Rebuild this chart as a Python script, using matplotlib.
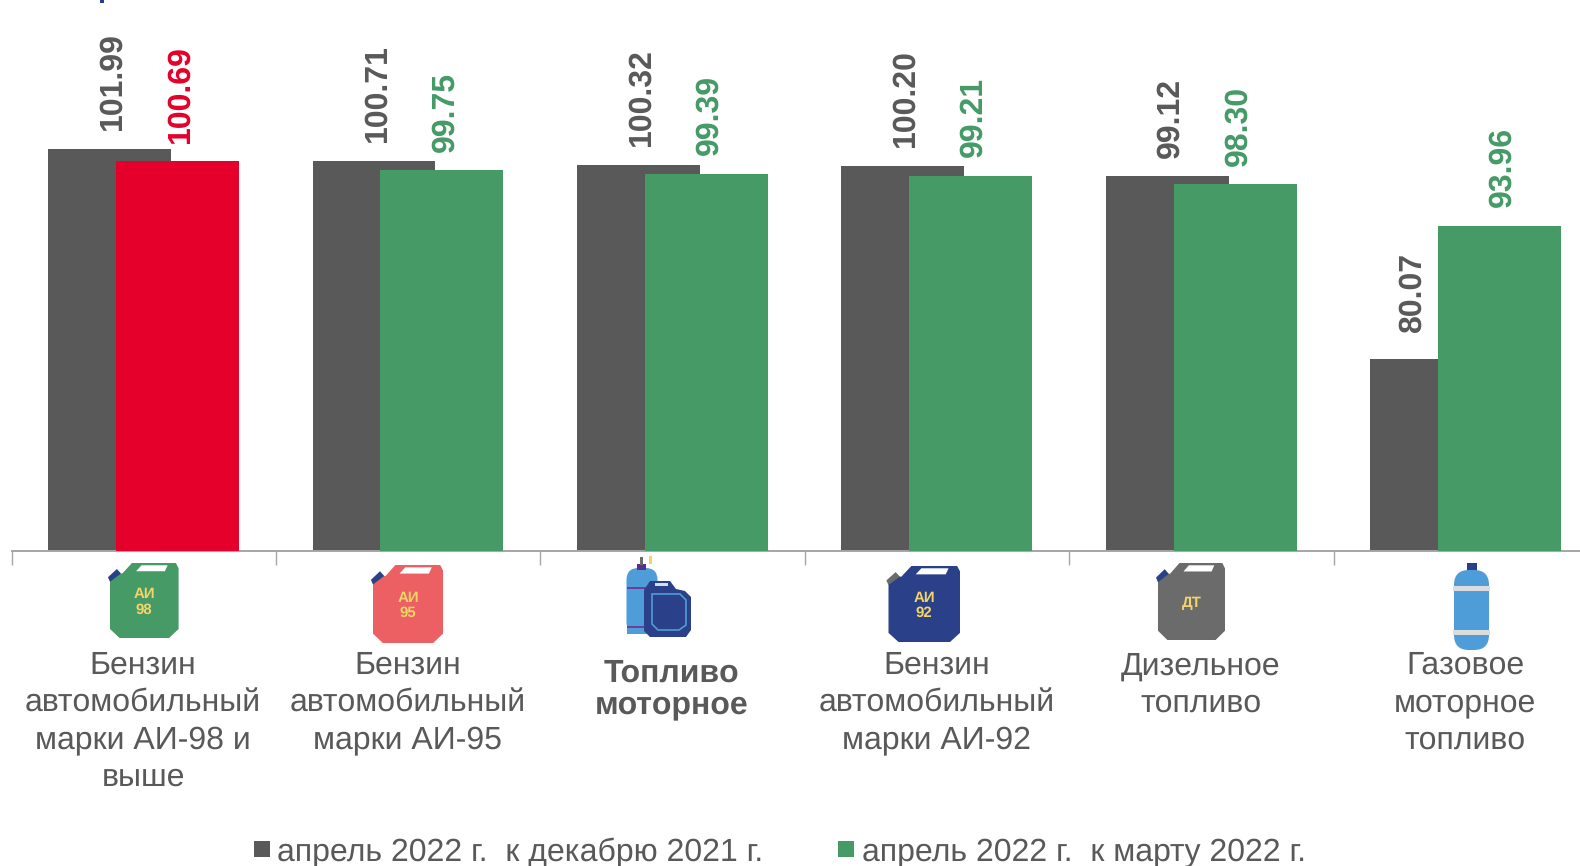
import matplotlib
matplotlib.use("Agg")
import matplotlib.pyplot as plt
from matplotlib.patches import Polygon, Rectangle, FancyBboxPatch
from matplotlib.transforms import blended_transform_factory

plt.rcParams['font.family'] = ['Liberation Sans', 'DejaVu Sans']
plt.rcParams['text.hinting'] = 'none'
plt.rcParams['text.hinting_factor'] = 1

categories = [
    "Бензин\nавтомобильный\nмарки АИ-98 и\nвыше",
    "Бензин\nавтомобильный\nмарки АИ-95",
    "Топливо\nмоторное",
    "Бензин\nавтомобильный\nмарки АИ-92",
    "Дизельное\nтопливо",
    "Газовое\nмоторное\nтопливо",
]
to_dec = [101.99, 100.71, 100.32, 100.20, 99.12, 80.07]
to_mar = [100.69, 99.75, 99.39, 99.21, 98.30, 93.96]
legend_labels = ["апрель 2022 г.  к декабрю 2021 г.", "апрель 2022 г.  к марту 2022 г."]

GRAY = "#595959"
GREEN = "#459a66"
RED = "#e4002b"
NAVY = "#2a4089"
BLUE = "#4f9dd8"
YELLOW = "#f2d468"

W, H = 1580, 866
AXIS_Y = 551
LEFT = 11.5
STEP = 264.4
PX_PER_UNIT = 9.575

fig = plt.figure(figsize=(W / 100, H / 100), dpi=100)
ax = fig.add_axes([LEFT / W, 1 - AXIS_Y / H, 1 - LEFT / W, AXIS_Y / H])
ax.set_xlim(-0.5, -0.5 + (W - LEFT) / STEP)
ax.set_ylim(60, 60 + AXIS_Y / PX_PER_UNIT)
ax.patch.set_visible(False)

# overlay in picture pixels, for the icons and text under the axis
pix = fig.add_axes([0, 0, 1, 1], zorder=3)
pix.set_xlim(0, W)
pix.set_ylim(H, 0)
pix.axis("off")
cat_x = blended_transform_factory(ax.transData, pix.transData)

bar_w = 0.465
off1 = -0.129
off2 = 0.128
colors2 = [RED] + [GREEN] * 5
for i in range(len(categories)):
    ax.bar(i + off1, to_dec[i], bar_w, color=GRAY, zorder=2)
    ax.bar(i + off2, to_mar[i], bar_w, color=colors2[i], zorder=3)
    # last grey label sits over the visible part of its bar, not the bar centre
    dec_shift = (-13.8, 19) if i == 5 else (2.2, 13.5)
    ax.annotate(f"{to_dec[i]:.2f}", (i + off1, to_dec[i]), xytext=dec_shift, textcoords="offset points",
                rotation=90, rotation_mode="anchor", ha="left", va="center", fontsize=23,
                color=GRAY, fontweight="bold", family="Liberation Sans")
    ax.annotate(f"{to_mar[i]:.2f}", (i + off2, to_mar[i]), xytext=(2.2, 13.5), textcoords="offset points",
                rotation=90, rotation_mode="anchor", ha="left", va="center", fontsize=23,
                color=colors2[i], fontweight="bold", family="Liberation Sans")

for s in ["top", "right", "left"]:
    ax.spines[s].set_visible(False)
ax.spines["bottom"].set_color("#a6a6a6")
ax.spines["bottom"].set_linewidth(1.4)
ax.set_yticks([])
ax.set_xticks([i - 0.5 for i in range(len(categories))])
ax.set_xticklabels([])
ax.tick_params(axis="x", length=10, width=1, color="#a6a6a6")

# category names
for i, name in enumerate(categories):
    if i == 2:
        pix.text(i - 0.003, 659, name, transform=cat_x, ha="center", va="top", fontsize=23,
                 fontweight="bold", color=GRAY, linespacing=1.04)
    else:
        pix.text(i - 0.002, 651, name, transform=cat_x, ha="center", va="top", fontsize=23,
                 color=GRAY, linespacing=1.32)


def can(x0, x1, y0, y1, color, label, cap=NAVY):
    w = x1 - x0
    h = y1 - y0
    pts = [(0.32, 0), (0.96, 0), (1, 0.07), (1, 0.88), (0.86, 1), (0.14, 1), (0, 0.88), (0, 0.2), (0.1, 0.14),
           (0.18, 0.14)]
    pix.add_patch(Polygon([(x0 + a * w, y0 + b * h) for a, b in pts], color=color, lw=0))
    pix.add_patch(Polygon([(x0 + 0.38 * w, y0 + 0.11 * h), (x0 + 0.46 * w, y0 + 0.03 * h),
                           (x0 + 0.84 * w, y0 + 0.03 * h), (x0 + 0.8 * w, y0 + 0.11 * h)], color="white", lw=0))
    pix.add_patch(Polygon([(x0 + 0.0 * w, y0 + 0.25 * h), (x0 + 0.16 * w, y0 + 0.14 * h),
                           (x0 + 0.1 * w, y0 + 0.08 * h), (x0 - 0.03 * w, y0 + 0.19 * h)], color=cap, lw=0))
    pix.text(x0 + 0.5 * w, y0 + 0.52 * h, label, ha="center", va="center", fontsize=11, fontweight="bold",
             color=YELLOW, linespacing=1.15)


can(110, 178.6, 563, 638, GREEN, "АИ\n98")
can(373, 443, 565, 643, "#ec5f62", "АИ\n95")
can(888.5, 960, 566, 642, NAVY, "АИ\n92", cap="#6b6b6b")
can(1158, 1225, 563, 640, "#6b6b6b", "ДТ")

# combined icon: cylinder plus canister
pix.add_patch(FancyBboxPatch((626.5, 568), 31, 66, boxstyle="round,pad=0,rounding_size=12", color=BLUE, lw=0))
pix.add_patch(Rectangle((626.5, 625), 31, 9, color=BLUE, lw=0))
pix.add_patch(Rectangle((626.5, 587), 22, 1.6, color="#6b3fa0", lw=0))
pix.add_patch(Rectangle((626.5, 626), 22, 1.6, color="#6b3fa0", lw=0))
pix.add_patch(Rectangle((637, 564), 9, 6, color="#5a2d91", lw=0))
pix.add_patch(Rectangle((640, 557), 3, 8, color="#6b6b6b", lw=0))
pix.add_patch(Rectangle((649, 556), 3, 8, color=YELLOW, lw=0))
pix.add_patch(Polygon([(650, 581), (670, 581), (676, 589), (685, 591), (691, 597), (691, 630), (686, 637), (650, 637),
                       (644, 631), (644, 590)], color=NAVY, lw=0))
pix.add_patch(Rectangle((655, 583), 13, 3, color="#cfe0f2", lw=0))
pix.add_patch(Polygon([(652, 594), (680, 594), (686, 600), (686, 625), (679, 630), (658, 630), (652, 624)],
                      facecolor="none", edgecolor=BLUE, lw=1.2))

# gas cylinder icon
pix.add_patch(Rectangle((1467, 563), 10, 9, color=NAVY, lw=0))
pix.add_patch(FancyBboxPatch((1454, 570), 35, 80, boxstyle="round,pad=0,rounding_size=15", color=BLUE, lw=0))
pix.add_patch(Rectangle((1453, 586), 37, 5, color="#dcdcdc", lw=0))
pix.add_patch(Rectangle((1453, 630), 37, 5, color="#dcdcdc", lw=0))

# stray bit of a cut off heading
pix.add_patch(Rectangle((100, 0), 4, 2.5, color="#2a3a90", lw=0))

# legend
pix.add_patch(Rectangle((254, 841), 16, 16, color=GRAY, lw=0))
pix.text(277, 853, legend_labels[0], ha="left", va="center", fontsize=23, color=GRAY)
pix.add_patch(Rectangle((838, 841), 16, 16, color=GREEN, lw=0))
pix.text(862, 852, legend_labels[1], ha="left", va="center", fontsize=23, color=GRAY)

fig.savefig("out.png", dpi=100)
